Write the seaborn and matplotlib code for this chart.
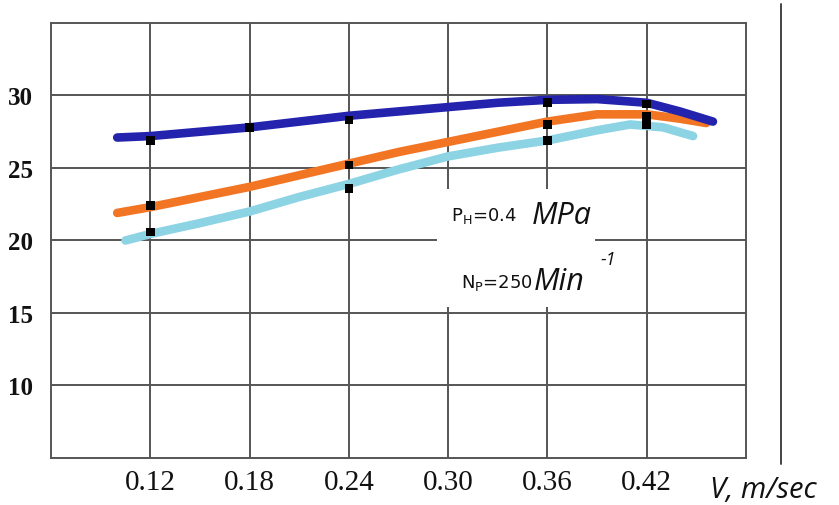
import numpy as np
import pandas as pd
import matplotlib.pyplot as plt
import seaborn as sns
from matplotlib.patches import Rectangle
from matplotlib.lines import Line2D

sns.set_theme(style="white")

# curves (V, m/sec -> value)
v_blue = [0.10, 0.12, 0.15, 0.18, 0.21, 0.24, 0.27, 0.30, 0.33, 0.36, 0.39, 0.42, 0.44, 0.46]
y_blue = [27.1, 27.2, 27.5, 27.8, 28.2, 28.6, 28.9, 29.2, 29.5, 29.7, 29.75, 29.5, 28.9, 28.2]

v_orange = [0.10, 0.12, 0.15, 0.18, 0.21, 0.24, 0.27, 0.30, 0.33, 0.36, 0.39, 0.42, 0.44, 0.456]
y_orange = [21.9, 22.3, 23.0, 23.7, 24.5, 25.3, 26.1, 26.8, 27.5, 28.2, 28.7, 28.7, 28.4, 28.1]

v_light = [0.105, 0.12, 0.15, 0.18, 0.21, 0.24, 0.27, 0.30, 0.33, 0.36, 0.39, 0.41, 0.43, 0.448]
y_light = [20.0, 20.45, 21.2, 22.0, 23.0, 23.9, 24.9, 25.8, 26.4, 26.9, 27.6, 28.0, 27.8, 27.2]

# measured points (black squares)
pts_v = [0.12, 0.18, 0.24, 0.36, 0.42,
         0.12, 0.24, 0.36, 0.42,
         0.12, 0.24, 0.36, 0.42, 0.42]
pts_y = [26.9, 27.8, 28.3, 29.5, 29.4,
         22.4, 25.2, 28.0, 28.6,
         20.6, 23.6, 26.9, 28.1, 28.0]

x_ticks = [0.12, 0.18, 0.24, 0.30, 0.36, 0.42]
y_ticks = [10, 15, 20, 25, 30]

colors = {"blue": "#2323ad", "orange": "#f27524", "light": "#8cd3e4"}

curves = pd.concat([
    pd.DataFrame({"V": v_light, "val": y_light, "s": "light"}),
    pd.DataFrame({"V": v_orange, "val": y_orange, "s": "orange"}),
    pd.DataFrame({"V": v_blue, "val": y_blue, "s": "blue"}),
])
points = pd.DataFrame({"V": pts_v, "val": pts_y})

fig = plt.figure(figsize=(8.39, 5.06), dpi=100)
ax = fig.add_axes([0.0608, 0.0929, 0.8284, 0.8597])

sns.lineplot(data=curves, x="V", y="val", hue="s", palette=colors, sort=False,
             linewidth=6.2, legend=False, ax=ax, zorder=3, solid_capstyle="round",
             solid_joinstyle="round")
sns.scatterplot(data=points, x="V", y="val", marker="s", s=38, color="black",
                edgecolor="none", legend=False, ax=ax, zorder=4)

ax.set_xlim(0.06, 0.48)
ax.set_ylim(5, 35)
ax.set_xticks(x_ticks)
ax.set_xticklabels([f"{t:.2f}" for t in x_ticks], family="Liberation Serif", fontsize=21)
ax.set_yticks(y_ticks)
ax.set_yticklabels([str(t) for t in y_ticks], family="Liberation Serif", fontsize=18,
                   weight="bold")
ax.tick_params(axis="x", length=0, pad=8, colors="#111111")
ax.tick_params(axis="y", length=3, width=1, pad=10, colors="#111111", direction="out")
ax.set_xlabel("")
ax.set_ylabel("")
ax.grid(True, color="#555555", linewidth=1.4)
for sp in ax.spines.values():
    sp.set_color("#555555")
    sp.set_linewidth(1.4)

# white box behind the annotation
ax.add_patch(Rectangle((0.555, 0.347), 0.228, 0.271, transform=ax.transAxes,
                       facecolor="white", edgecolor="none", zorder=2.5))

narrow = ["Liberation Sans Narrow", "DejaVu Sans"]
ax.text(0.576, 0.559, r"P$_\mathregular{H}$=0.4", transform=ax.transAxes, family=narrow,
        fontsize=13, va="center", ha="left", color="#111111", zorder=5)
ax.text(0.692, 0.559, "MPa", transform=ax.transAxes, family="Open Sans", style="italic",
        fontsize=22, va="center", ha="left", color="#111111", zorder=5)
ax.text(0.590, 0.405, r"N$_\mathregular{P}$=250", transform=ax.transAxes, family=narrow,
        fontsize=13, va="center", ha="left", color="#111111", zorder=5)
ax.text(0.694, 0.407, "Min", transform=ax.transAxes, family="Open Sans", style="italic",
        fontsize=22, va="center", ha="left", color="#111111", zorder=5)
ax.text(0.790, 0.458, "-1", transform=ax.transAxes, family="Open Sans", style="italic",
        fontsize=13, va="center", ha="left", color="#111111", zorder=5)

ax.text(0.948, -0.072, "V, m/sec", transform=ax.transAxes, family="Open Sans", style="italic",
        fontsize=21, va="center", ha="left", color="#111111", clip_on=False)

# vertical rule at the right side
fig.add_artist(Line2D([0.931, 0.931], [0.081, 0.99], transform=fig.transFigure,
                      color="#444444", linewidth=1.4))

fig.savefig("out.png", dpi=100)
